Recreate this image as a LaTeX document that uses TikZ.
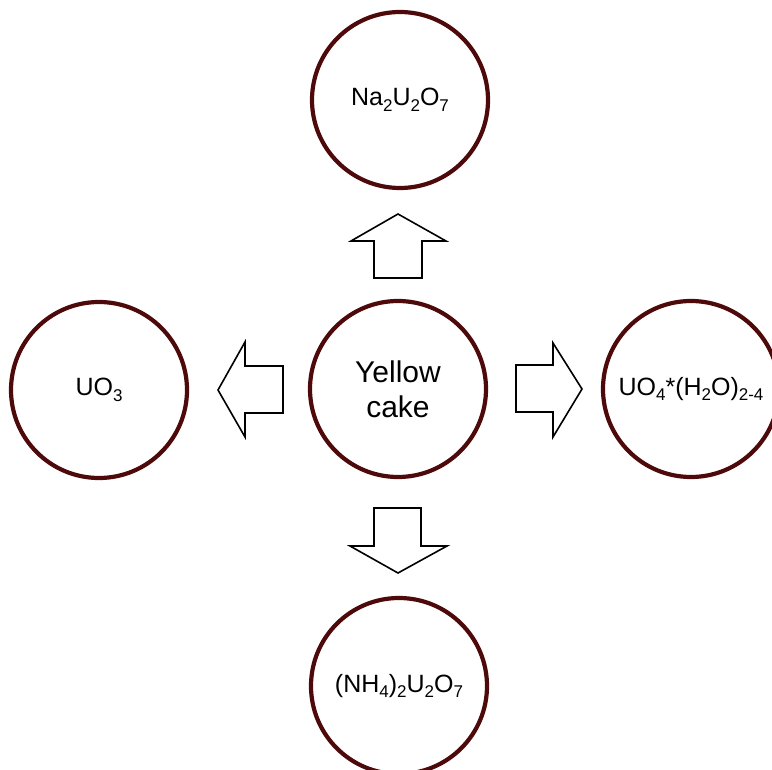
\documentclass[tikz,border=0pt]{standalone}
\usepackage{fontspec}
\setmainfont{Liberation Sans}
\definecolor{ringbrown}{RGB}{78,10,10}
\tikzset{%
    Dring/.style={shape=circle, draw=ringbrown, line width=4.2pt, minimum size=176pt, inner sep=0pt, font=\fontsize{25}{30}\selectfont},
    Dblock/.style={draw=black, line width=1.6pt, line join=miter, fill=white}
}
\newcommand{\sub}[1]{\raisebox{-5.5pt}{\fontsize{17}{17}\selectfont #1}}

\begin{document}
\begin{tikzpicture}[x=1pt,y=-1pt]
        \useasboundingbox (0,0) rectangle (772,770);
        \clip (0,0) rectangle (772,770);
        \node [Dring] (Ncake) at (398,389) {};
        \node [align=center, font=\fontsize{30}{35}\selectfont] at (Ncake) {Yellow\\cake};
        \node [Dring] (Ntop) at (400,100) {Na\sub{2}U\sub{2}O\sub{7}};
        \node [Dring] (Nleft) at (99,390) {UO\sub{3}};
        \node [Dring] (Nright) at (691,389) {UO\sub{4}*(H\sub{2}O)\sub{2-4}};
        \node [Dring] (Nbottom) at (399,686) {(NH\sub{4})\sub{2}U\sub{2}O\sub{7}};
        % block arrows
        \draw [Dblock] (398,214)--(446,241)--(422,241)--(422,278)--(374,278)--(374,241)--(351,241)--cycle;
        \draw [Dblock] (398,573)--(447,546)--(421,546)--(421,508)--(374,508)--(374,546)--(350,546)--cycle;
        \draw [Dblock] (218,390)--(245,342)--(245,366)--(283,366)--(283,413)--(245,413)--(245,437)--cycle;
        \draw [Dblock] (582,389)--(553,343)--(553,365)--(516,365)--(516,412)--(553,412)--(553,437)--cycle;
    \end{tikzpicture}
\end{document}
